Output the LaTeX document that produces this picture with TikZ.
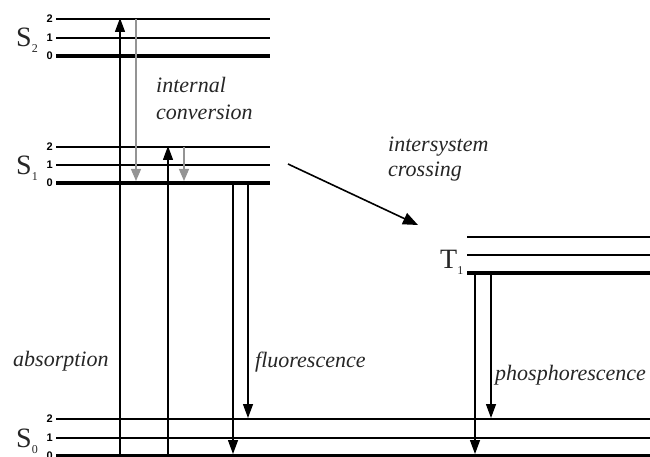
\documentclass[tikz,border=0pt]{standalone}
\usepackage{fontspec}
\setmainfont{Liberation Serif}
\newfontfamily\numfont{Liberation Sans}
\usetikzlibrary{arrows.meta}
\newcommand{\stlabel}[2]{{\fontsize{28}{28}\selectfont #1}{\fontsize{12}{12}\selectfont\raisebox{-6pt}{#2}}}
\begin{document}
\begin{tikzpicture}[x=1pt,y=-1pt,
 thinlvl/.style={line width=1.8pt},
 thicklvl/.style={line width=3.6pt},
 num/.style={font=\numfont\bfseries\fontsize{11}{11}\selectfont, anchor=east, inner sep=0pt},
 trans/.style={line width=1.3pt, -{Triangle[length=14pt,width=10pt]}},
 ictrans/.style={line width=1.3pt, draw=black!42, -{Triangle[length=12pt,width=10pt]}},
 isc/.style={line width=1.6pt, -{Triangle[length=15pt,width=12pt]}},
 lbl/.style={font=\itshape\fontsize{22}{27}\selectfont, inner sep=0pt, anchor=base west, text=black!85},
 statelbl/.style={inner sep=0pt, anchor=base west, text=black!85}
]
\useasboundingbox (0,0) rectangle (650,457);

% S2 levels
\draw[thinlvl] (56,19) -- (270,19);
\draw[thinlvl] (56,38) -- (270,38);
\draw[thicklvl] (56,56) -- (270,56);
\node[num] (s2a) at (53,19) {2};
\node[num] (s2b) at (53,38) {1};
\node[num] (s2c) at (53,56) {0};
\node[statelbl] (S2) at (16,47) {\stlabel{S}{2}};

% S1 levels
\draw[thinlvl] (56,147) -- (270,147);
\draw[thinlvl] (56,165) -- (270,165);
\draw[thicklvl] (56,183) -- (270,183);
\node[num] (s1a) at (53,147) {2};
\node[num] (s1b) at (53,165) {1};
\node[num] (s1c) at (53,183) {0};
\node[statelbl] (S1) at (16,175) {\stlabel{S}{1}};

% T1 levels
\draw[thinlvl] (467,237) -- (650,237);
\draw[thinlvl] (467,255) -- (650,255);
\draw[thicklvl] (467,273) -- (650,273);
\node[statelbl] (T1) at (440,268) {\stlabel{T}{1}};

% S0 levels
\draw[thinlvl] (56,419) -- (650,419);
\draw[thinlvl] (56,438) -- (650,438);
\draw[thicklvl] (56,456) -- (650,456);
\node[num] (s0a) at (53,419) {2};
\node[num] (s0b) at (53,438) {1};
\node[num] (s0c) at (53,456) {0};
\node[statelbl] (S0) at (16,447) {\stlabel{S}{0}};

% endpoints
\coordinate (a1s) at (120,455); \coordinate (a1e) at (120,18);
\coordinate (a2s) at (168,455); \coordinate (a2e) at (168,146);
\coordinate (i1s) at (136,19);  \coordinate (i1e) at (136,181);
\coordinate (i2s) at (184,147); \coordinate (i2e) at (184,181);
\coordinate (f1s) at (233,183); \coordinate (f1e) at (233,454);
\coordinate (f2s) at (248,183); \coordinate (f2e) at (248,418);
\coordinate (p1s) at (475,273); \coordinate (p1e) at (475,454);
\coordinate (p2s) at (491,273); \coordinate (p2e) at (491,418);
\coordinate (xs) at (288,164);  \coordinate (xe) at (418,225);

\draw[trans] (a1s) -- (a1e);
\draw[trans] (a2s) -- (a2e);
\draw[ictrans] (i1s) -- (i1e);
\draw[ictrans] (i2s) -- (i2e);
\draw[trans] (f1s) -- (f1e);
\draw[trans] (f2s) -- (f2e);
\draw[trans] (p1s) -- (p1e);
\draw[trans] (p2s) -- (p2e);
\draw[isc] (xs) -- (xe);

% labels
\node[lbl] (ic1) at (156,93) {internal};
\node[lbl] (ic2) at (156,120) {conversion};
\node[lbl] (isc1) at (388,152) {intersystem};
\node[lbl] (isc2) at (388,177) {crossing};
\node[lbl] (abs) at (13,366) {absorption};
\node[lbl] (fl) at (255,367) {fluorescence};
\node[lbl] (ph) at (495,380) {phosphorescence};
\end{tikzpicture}
\end{document}
